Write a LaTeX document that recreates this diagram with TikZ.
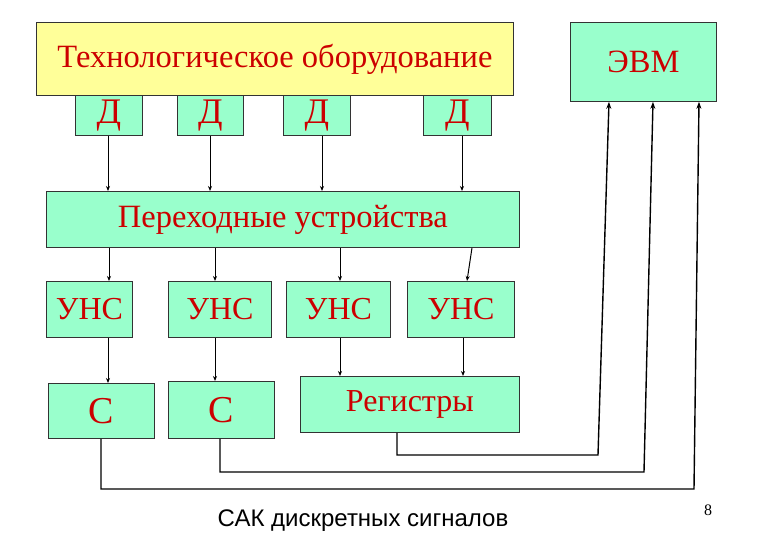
\documentclass[tikz,border=0pt]{standalone}
\usepackage{fontspec}
\setmainfont{Liberation Serif}
\newfontfamily\arialf{Liberation Sans}
\usetikzlibrary{arrows.meta}
\definecolor{boxgreen}{HTML}{99FFCC}
\definecolor{boxyellow}{HTML}{FFFF99}
\definecolor{txtred}{HTML}{CC0000}
\begin{document}
\begin{tikzpicture}[x=1pt,y=-1pt,
  blk/.style={draw=black!80,line width=0.8pt,fill=boxgreen,text=txtred,inner sep=0pt,anchor=north west},
  arr/.style={-{Stealth[length=5pt,width=4pt]},line width=1pt},
  wire/.style={-{Stealth[length=7pt,width=5pt]},line width=1.4pt}]
\useasboundingbox (0,0) rectangle (780,540);
\node[blk,fill=boxyellow,minimum width=477pt,minimum height=73pt,font=\fontsize{32.5}{36}\selectfont] (tech) at (36,22) {Технологическое оборудование};
\node[blk,minimum width=146pt,minimum height=79pt,font=\fontsize{32.5}{36}\selectfont] (evm) at (570,22) {ЭВМ};
\foreach \n/\x/\w in {1/75/67,2/177/66,3/283/67,4/423/68}
  \node[blk,minimum width=\w pt,minimum height=40pt,font=\fontsize{36}{38}\selectfont] (d\n) at (\x,95) {Д};
\node[blk,minimum width=473pt,minimum height=56pt,font=\fontsize{32.5}{36}\selectfont] (per) at (46,191) {Переходные устройства};
\foreach \n/\x/\w in {1/46/86,2/168/103,3/286/104,4/407/107}
  \node[blk,minimum width=\w pt,minimum height=56pt,font=\fontsize{32}{35}\selectfont] (u\n) at (\x,281) {УНС};
\node[blk,minimum width=106pt,minimum height=55pt,font=\fontsize{38}{40}\selectfont] (c1) at (48,383) {С};
\node[blk,minimum width=106pt,minimum height=57pt,font=\fontsize{38}{40}\selectfont] (c2) at (168,381) {С};
\node[blk,minimum width=219pt,minimum height=56pt,font=\fontsize{32}{35}\selectfont] (reg) at (300,376) {Регистры};
% Д -> Переходные
\draw[arr] (d1.south -| 108,0) -- (per.north -| 108,0);
\draw[arr] (d2.south -| 210,0) -- (per.north -| 210,0);
\draw[arr] (d3.south -| 322,0) -- (per.north -| 322,0);
\draw[arr] (d4.south -| 462,0) -- (per.north -| 462,0);
% Переходные -> УНС
\draw[arr] (per.south -| 109,0) -- (u1.north -| 109,0);
\draw[arr] (per.south -| 215,0) -- (u2.north -| 215,0);
\draw[arr] (per.south -| 340,0) -- (u3.north -| 340,0);
\draw[arr] (per.south -| 472,0) -- (u4.north -| 467,0);
% УНС -> C / Регистры
\draw[arr] (u1.south -| 108,0) -- (c1.north -| 108,0);
\draw[arr] (u2.south -| 215,0) -- (c2.north -| 215,0);
\draw[arr] (u3.south -| 340,0) -- (reg.north -| 340,0);
\draw[arr] (u4.south -| 463,0) -- (reg.north -| 463,0);
% to ЭВМ
\coordinate (r1) at (397,455); \coordinate (r2) at (598,455);
\draw[wire] (reg.south -| 397,0) -- (r1) -- (r2) -- (evm.south -| 609,0);
\coordinate (s1) at (220,472); \coordinate (s2) at (644,472);
\draw[wire] (c2.south -| 220,0) -- (s1) -- (s2) -- (evm.south -| 653,0);
\coordinate (t1) at (101,489); \coordinate (t2) at (694,489);
\draw[wire] (c1.south -| 101,0) -- (t1) -- (t2) -- (evm.south -| 699,0);
\node[font=\arialf\fontsize{24}{26}\selectfont] (cap) at (363,521) {САК дискретных сигналов};
\node[font=\fontsize{16}{18}\selectfont] (num) at (708,510) {8};
\end{tikzpicture}
\end{document}
